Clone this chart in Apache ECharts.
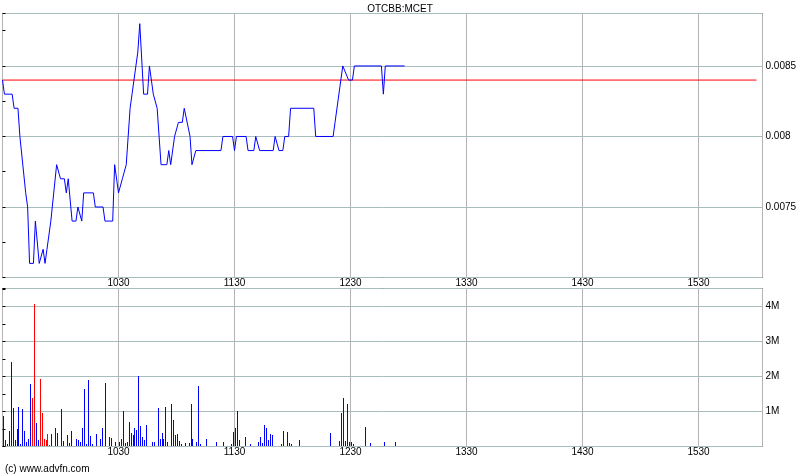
<!DOCTYPE html>
<html><head><meta charset="utf-8">
<script src="https://cdn.jsdelivr.net/npm/echarts@6/dist/echarts.min.js"></script>
<style>html,body{margin:0;padding:0;background:#fff}#c{width:800px;height:475px}</style>
</head><body><div id="c"></div>
<script>
// ---- data ----
const chartTitle = 'OTCBB:MCET';
const creditText = '(c) www.advfn.com';
const sessionOpen = 570;          // 09:30, minutes after midnight
const sessionLength = 390;        // 09:30 -> 16:00
const prevClose = 0.0084;

// minutes after the open, and last trade price
const priceTimes = [0,1,5,6,8,9,10,12,13,14,16,17,19,20,21,22,23,24,25,26,28,29,30,32,33,34,36,38,39,40,41,42,47,48,52,53,57,58,59,60,62,63,64,65,66,67,68,69,70,71,73,75,76,78,79,80,82,85,86,87,89,91,93,94,95,97,98,99,100,113,114,119,120,121,126,127,130,131,132,133,140,141,142,143,145,146,148,149,161,162,171,172,173,176,177,179,181,182,196,197,198,208];
const priceValues = [0.0084,0.0083,0.0083,0.0082,0.0082,0.0080,0.0080,0.0076,0.0075,0.0071,0.0071,0.0074,0.0071,0.0071,0.0072,0.0071,0.0072,0.0072,0.0074,0.0074,0.0078,0.0078,0.0077,0.0077,0.0076,0.0077,0.0074,0.0074,0.0075,0.0075,0.0074,0.0076,0.0076,0.0075,0.0075,0.0074,0.0074,0.0078,0.0078,0.0076,0.0077,0.0077,0.0078,0.0080,0.0082,0.0082,0.0084,0.0085,0.0086,0.0088,0.0083,0.0083,0.0085,0.0083,0.0083,0.0082,0.0078,0.0078,0.0079,0.0078,0.0080,0.0081,0.0081,0.0082,0.0082,0.0080,0.0078,0.0078,0.0079,0.0079,0.0080,0.0080,0.0079,0.0080,0.0080,0.0079,0.0079,0.0080,0.0080,0.0079,0.0079,0.0080,0.0080,0.0079,0.0079,0.0080,0.0080,0.0082,0.0082,0.0080,0.0080,0.0081,0.0081,0.0085,0.0085,0.0084,0.0084,0.0085,0.0085,0.0083,0.0085,0.0085];

// minutes after the open, and volume (millions of shares)
const volTimes = [0,1,2,3,4,5,6,7,8,9,10,11,12,13,14,15,16,17,18,19,20,21,22,23,24,25,27,28,30,31,33,34,35,38,39,40,41,42,43,44,45,46,48,50,51,53,55,56,58,60,61,62,63,64,65,66,67,68,69,70,71,72,73,74,77,78,80,81,82,83,84,85,87,88,89,90,91,92,94,96,97,98,100,101,102,105,110,114,118,119,120,121,122,125,128,132,133,134,135,136,137,138,139,144,145,147,148,149,153,169,174,175,176,177,178,179,180,181,187,190,197,203];
const volValues = [0.87,0.18,0.08,0.44,2.41,1.09,0.18,0.49,1.12,0.07,1.07,0.44,0.13,0.21,1.78,1.38,4.07,0.67,0.18,1.92,0.95,0.21,0.18,0.35,0.05,0.35,0.52,0.38,1.07,0.15,0.32,0.09,0.44,0.21,0.18,0.12,0.52,1.64,0.07,1.90,0.29,0.06,0.35,0.21,0.52,1.81,0.27,0.24,0.12,0.12,0.21,1.01,0.09,0.12,0.69,0.38,0.32,0.52,0.47,2.01,0.58,0.27,0.18,0.61,0.12,0.12,1.09,0.21,0.38,0.21,1.12,0.12,1.21,0.75,0.32,0.35,0.15,0.07,0.09,0.09,1.21,0.21,0.12,1.72,0.07,0.21,0.12,0.12,0.07,0.41,0.52,1.01,0.18,0.27,0.07,0.12,0.27,0.09,0.61,0.52,0.18,0.35,0.32,0.07,0.44,0.41,0.09,0.07,0.18,0.38,0.15,0.95,1.38,0.15,1.21,0.12,0.12,0.07,0.55,0.09,0.12,0.12];
// minutes whose volume is drawn red
const redVolTimes = [15,16,19,20,21,22,23,24];

// ---- helpers ----
const FONT = 'Liberation Sans';
function hhmm(m) {
  const t = sessionOpen + m;
  const h = Math.floor(t / 60), mm = t % 60;
  return String(h) + (mm < 10 ? '0' : '') + mm;
}
function xLabel(v) {
  if (v <= 0 || Math.abs(v % 60) > 1e-6 || v > sessionLength) return '';
  return hhmm(v);
}
const priceData = priceTimes.map((t, i) => [t, priceValues[i]]);
const refLine = [[0, prevClose], [sessionLength, prevClose]];
const volData = volTimes.map((t, i) => [t, volValues[i] * 1e6, redVolTimes.indexOf(t) >= 0 ? 1 : 0]);

const gridLeft = 2.5, gridRight = 37.5;
const xMax = 393.1;
const vGrid = {show: true, lineStyle: {color: '#b4b4b4', width: 1}};
const hGrid = {show: true, lineStyle: {color: '#a8bebe', width: 1}};
const tick = {show: true, inside: false, length: 3, lineStyle: {color: '#000', width: 1}};
const mtick = {show: true, splitNumber: 2, length: 3, lineStyle: {color: '#000', width: 1}};
const labelStyle = {color: '#000', fontSize: 10, fontFamily: FONT};

const chart = echarts.init(document.getElementById('c'), null, {renderer: 'canvas'});
chart.setOption({
  animation: false,
  backgroundColor: '#fff',
  title: {text: chartTitle, left: 'center', top: -1,
    textStyle: {fontSize: 10, fontWeight: 'normal', color: '#000', fontFamily: FONT}},
  graphic: [{type: 'text', left: 5, top: 464,
    style: {text: creditText, fontSize: 10, fill: '#000', fontFamily: FONT}}],
  grid: [
    {left: gridLeft, right: gridRight, top: 13.5, height: 264, show: true, borderColor: '#000', borderWidth: 1},
    {left: gridLeft, right: gridRight, top: 288.5, height: 158, show: true, borderColor: '#000', borderWidth: 1}
  ],
  xAxis: [
    {gridIndex: 0, type: 'value', min: 0, max: xMax, interval: 60,
      axisLine: {show: false}, axisTick: {show: false},
      axisLabel: Object.assign({formatter: xLabel, margin: 1, showMinLabel: false, showMaxLabel: false}, labelStyle),
      splitLine: vGrid},
    {gridIndex: 1, type: 'value', min: 0, max: xMax, interval: 60,
      axisLine: {show: false}, axisTick: {show: false},
      axisLabel: Object.assign({formatter: xLabel, margin: 1, showMinLabel: false, showMaxLabel: false}, labelStyle),
      splitLine: vGrid}
  ],
  yAxis: [
    {gridIndex: 0, type: 'value', position: 'right', min: 0.007, max: 0.008872, interval: 0.0005,
      axisLine: {show: false}, axisTick: tick, minorTick: mtick,
      axisLabel: Object.assign({margin: 3, showMinLabel: false, showMaxLabel: false,
        formatter: v => (v <= 0.007 + 1e-9 || Math.abs(Math.round(v / 0.0005) * 0.0005 - v) > 1e-9) ? '' : String(parseFloat(v.toFixed(5)))}, labelStyle),
      splitLine: hGrid},
    {gridIndex: 1, type: 'value', position: 'right', min: 0, max: 4.51e6, interval: 1e6,
      axisLine: {show: false}, axisTick: tick, minorTick: mtick,
      axisLabel: Object.assign({margin: 3, showMinLabel: false, showMaxLabel: false,
        formatter: v => (v <= 0 || Math.abs(v % 1e6) > 1) ? '' : (v / 1e6) + 'M'}, labelStyle),
      splitLine: hGrid}
  ],
  series: [
    {type: 'line', name: 'prevClose', xAxisIndex: 0, yAxisIndex: 0, data: refLine,
      showSymbol: false, symbol: 'none', lineStyle: {color: '#ff0000', width: 1}, silent: true},
    {type: 'line', name: 'price', xAxisIndex: 0, yAxisIndex: 0, data: priceData,
      showSymbol: false, symbol: 'none', lineStyle: {color: '#0000ff', width: 1}},
    {type: 'custom', name: 'volume', xAxisIndex: 1, yAxisIndex: 1, data: volData,
      encode: {x: 0, y: 1},
      renderItem: function (params, api) {
        const top = api.coord([api.value(0), api.value(1)]);
        const base = api.coord([api.value(0), 0]);
        const x = Math.ceil(top[0]);
        const y0 = Math.round(top[1]);
        const y1 = Math.floor(base[1]);
        return {type: 'rect', shape: {x: x, y: y0, width: 1, height: Math.max(1, y1 - y0)},
          style: {fill: api.value(2) ? '#ff0000' : '#0000ff'}};
      }}
  ]
});
</script>
</body></html>
